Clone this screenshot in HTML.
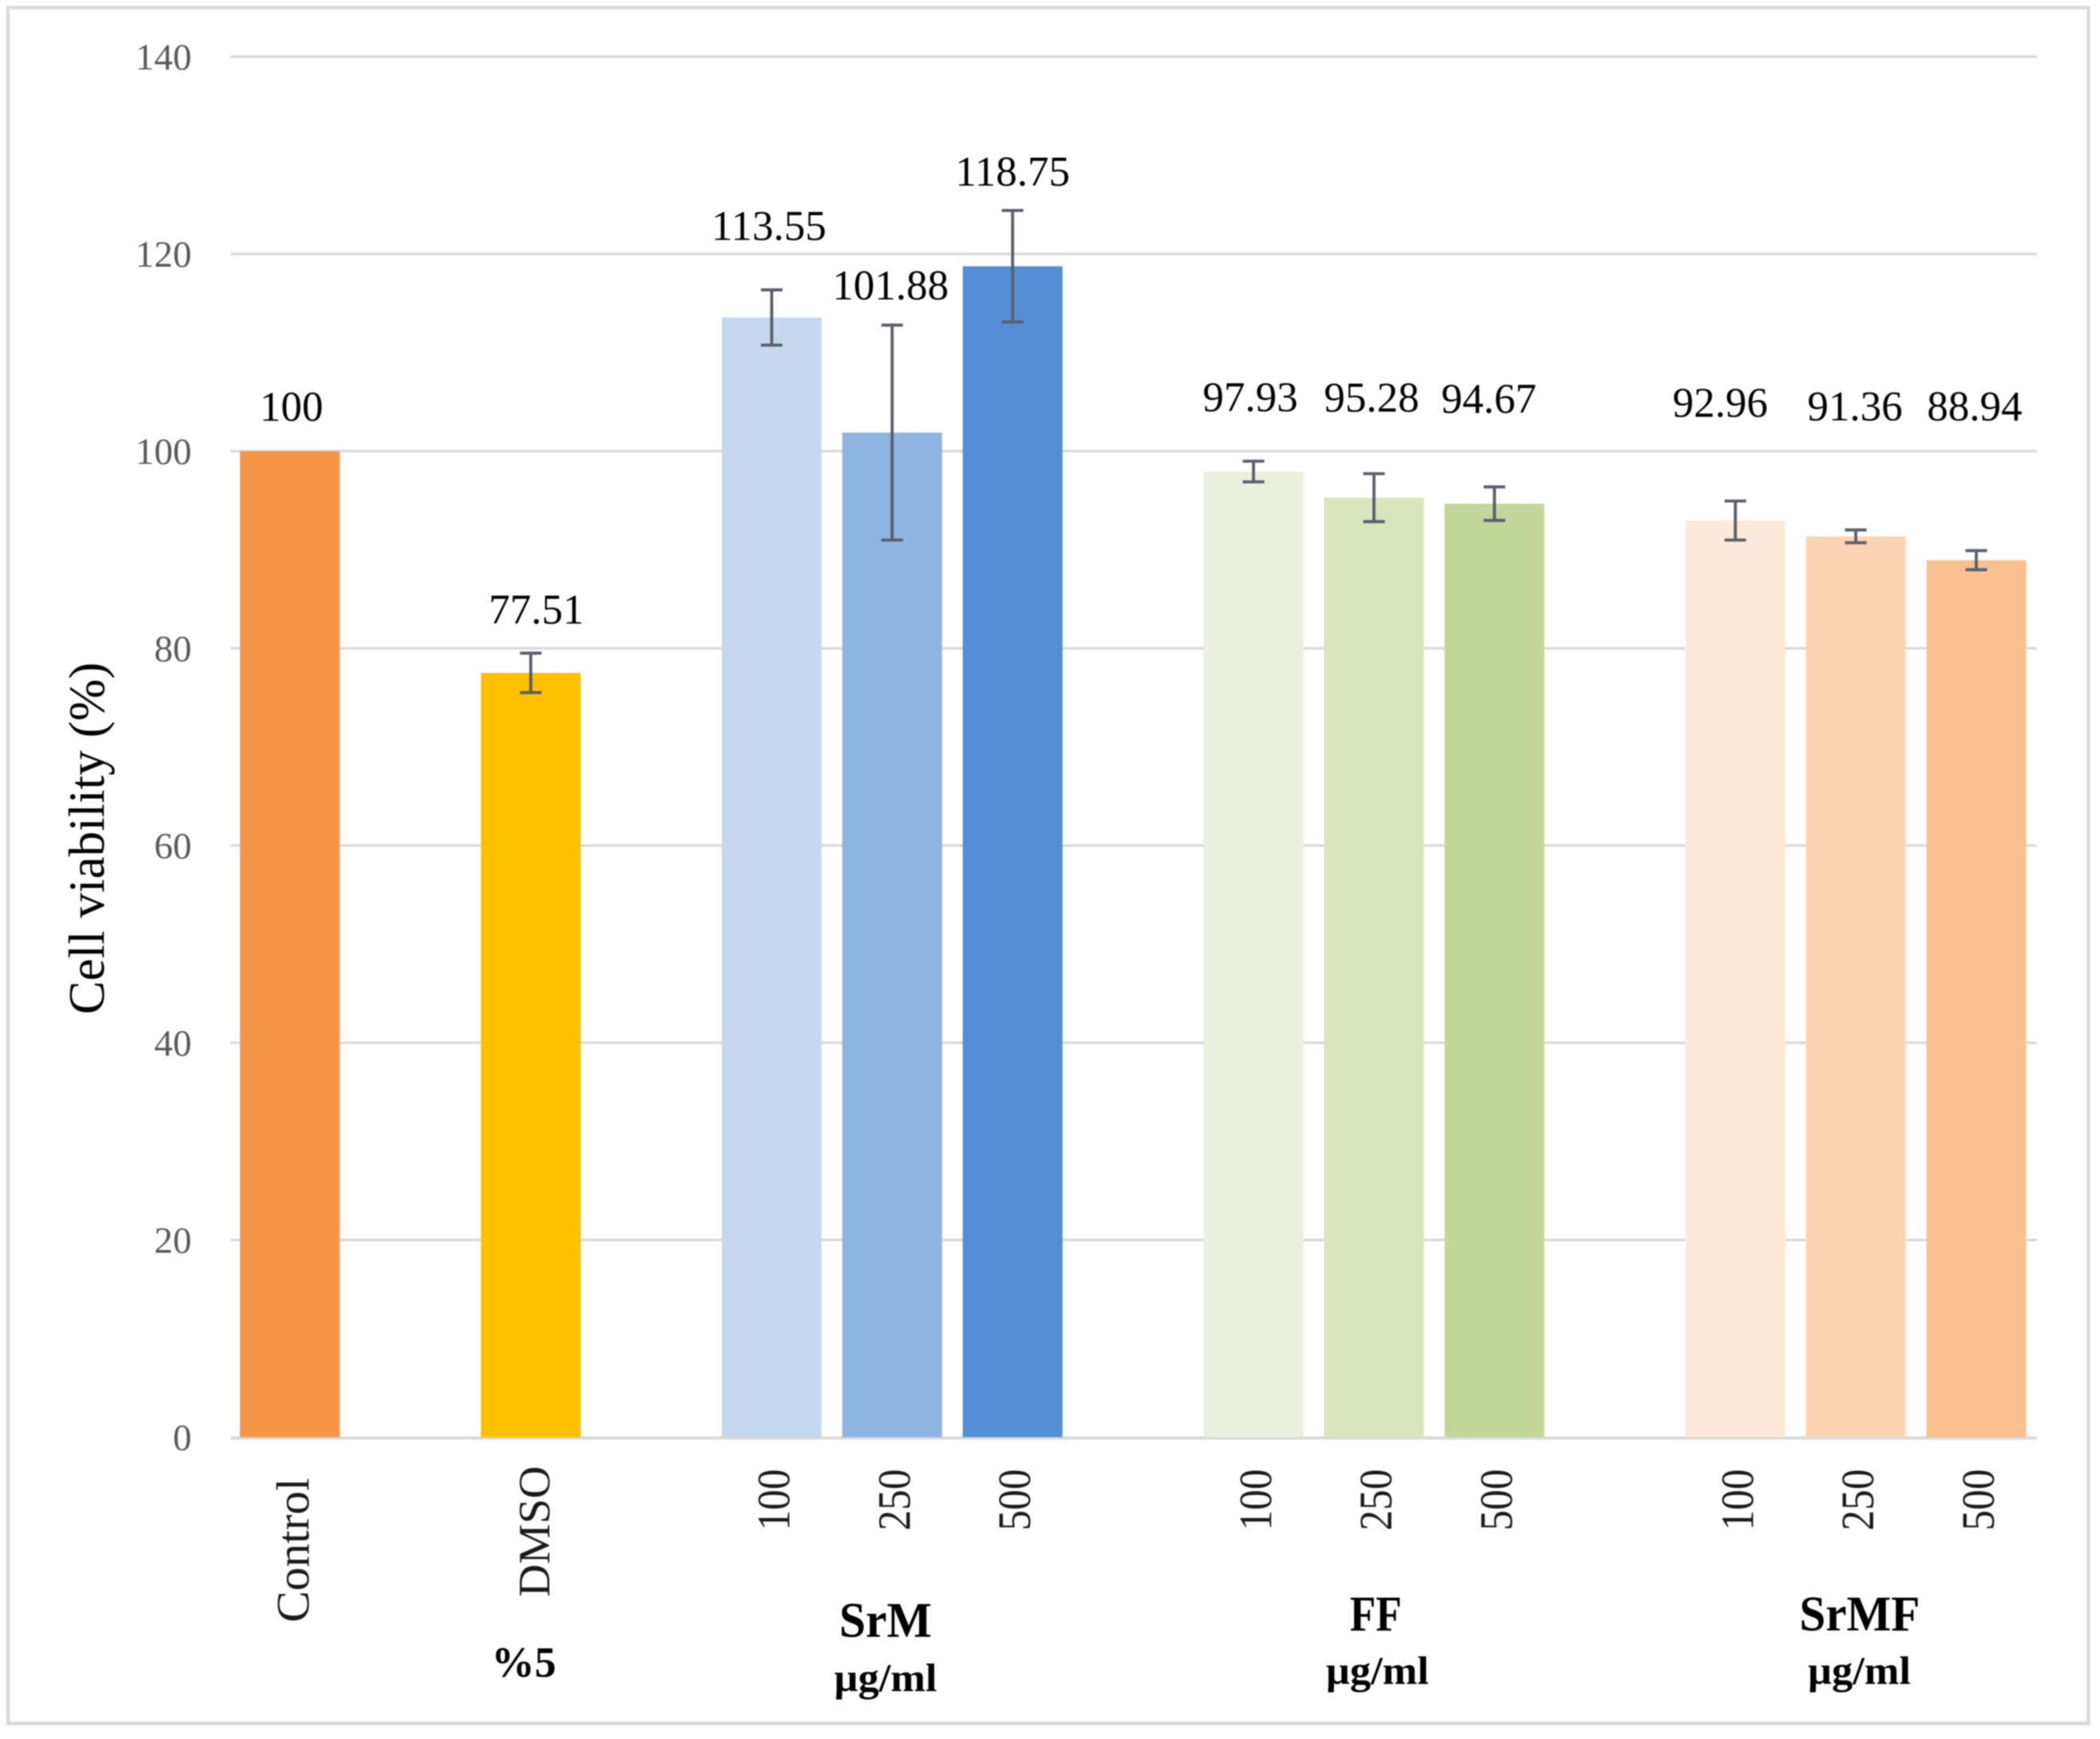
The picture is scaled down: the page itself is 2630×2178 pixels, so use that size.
<!DOCTYPE html>
<html lang="en">
<head>
<meta charset="utf-8">
<title>Cell viability chart</title>
<style>
  html, body { margin: 0; padding: 0; background: #fff; }
  #chart { display: block; filter: blur(0.8px); font-family: "Liberation Serif", serif; }
</style>
</head>
<body>
<svg id="chart" xmlns="http://www.w3.org/2000/svg" width="2630" height="2178" viewBox="0 0 2630 2178">
  <rect x="0" y="0" width="2630" height="2178" fill="#ffffff"/>
  <rect x="10" y="9.5" width="2605.5" height="2149" fill="none" stroke="#d9d9d9" stroke-width="4.5"/>
  <g id="grid"></g>
  <g id="yticks"></g>
  <g id="bars"></g>
  <g id="errors"></g>
  <g id="values"></g>
  <g id="xlabels"></g>
  <text transform="translate(130,1050) rotate(-90)" text-anchor="middle" font-size="63" fill="#000" textLength="441" lengthAdjust="spacingAndGlyphs">Cell viability (%)</text>
  <text x="656" y="2100" text-anchor="middle" font-size="54" font-weight="bold" fill="#000">%5</text>
  <text x="1109" y="2050" text-anchor="middle" font-size="62" font-weight="bold" fill="#000" textLength="116" lengthAdjust="spacingAndGlyphs">SrM</text>
  <text x="1109" y="2118" text-anchor="middle" font-size="50" font-weight="bold" fill="#000" textLength="129" lengthAdjust="spacingAndGlyphs">µg/ml</text>
  <text x="1723" y="2042" text-anchor="middle" font-size="62" font-weight="bold" fill="#000" textLength="65" lengthAdjust="spacingAndGlyphs">FF</text>
  <text x="1725" y="2109" text-anchor="middle" font-size="50" font-weight="bold" fill="#000" textLength="129" lengthAdjust="spacingAndGlyphs">µg/ml</text>
  <text x="2329" y="2042" text-anchor="middle" font-size="62" font-weight="bold" fill="#000" textLength="151" lengthAdjust="spacingAndGlyphs">SrMF</text>
  <text x="2328.5" y="2109" text-anchor="middle" font-size="50" font-weight="bold" fill="#000" textLength="129" lengthAdjust="spacingAndGlyphs">µg/ml</text>
</svg>
<script>
// Chart data
const categories = ['Control', null, 'DMSO', null, '100', '250', '500', null, '100', '250', '500', null, '100', '250', '500'];
const viability = [100, null, 77.51, null, 113.55, 101.88, 118.75, null, 97.93, 95.28, 94.67, null, 92.96, 91.36, 88.94];
const errorAmount = [0, null, 2.0, null, 2.8, 10.9, 5.65, null, 1.05, 2.43, 1.7, null, 1.98, 0.65, 0.97];
const valueLabels = ['100', null, '77.51', null, '113.55', '101.88', '118.75', null, '97.93', '95.28', '94.67', null, '92.96', '91.36', '88.94'];
const yTicks = [0, 20, 40, 60, 80, 100, 120, 140];

(function draw() {
  const NS = 'http://www.w3.org/2000/svg';
  const barFill = ['#f79646', null, '#ffc000', null, '#c6d8f0', '#8fb3e2', '#558ed5', null, '#ebf1de', '#d9e5bd', '#c4d79b', null, '#fde9d9', '#fbd4b4', '#fac090'];
  // Per-label nudge from the bar top, matching the hand-placed annotations.
  const labelNudge = [[2, -38], null, [7, -62], null, [-3.5, -97], [-2, -167], [0, -101], null, [-4, -75.5], [-3, -108], [-7, -114], null, [-19, -130], [-1, -145], [-2, -175]];

  const yScale = function (v) { return 1800 - v * (1729 / 140); };
  const xScale = function (i) { return 363 + i * 150.86; };
  const BAR_W = 125;
  const CAP = 27;

  function make(tag, attrs, parent, content) {
    const el = document.createElementNS(NS, tag);
    for (const k in attrs) { el.setAttribute(k, attrs[k]); }
    if (content !== undefined) { el.textContent = content; }
    document.getElementById(parent).appendChild(el);
    return el;
  }

  yTicks.forEach(function (t) {
    const line = make('line', { x1: 289, x2: 2551, y1: yScale(t) + (t === 0 ? 1 : 0), y2: yScale(t) + (t === 0 ? 1 : 0), stroke: '#d9d9d9', 'stroke-width': t === 0 ? 4 : 3.2 }, 'grid');
    
    
    const label = make('text', { x: 240, y: yScale(t) + 16, 'text-anchor': 'end', 'font-size': 47, fill: '#595959' }, 'yticks', String(t));
    
    
  });

  categories.forEach(function (cat, i) {
    if (cat === null) { return; }
    const cx = xScale(i);
    const top = yScale(viability[i]);
    const bar = make('rect', { x: cx - BAR_W / 2, y: top, width: BAR_W, height: yScale(0) - top, fill: barFill[i] }, 'bars');
    
    

    if (errorAmount[i] > 0) {
      const hi = yScale(viability[i] + errorAmount[i]);
      const lo = yScale(viability[i] - errorAmount[i]);
      const d = 'M' + (cx - CAP / 2) + ' ' + hi + 'H' + (cx + CAP / 2) + 'M' + cx + ' ' + hi + 'V' + lo + 'M' + (cx - CAP / 2) + ' ' + lo + 'H' + (cx + CAP / 2);
      const err = make('path', { d: d, fill: 'none', stroke: '#595f69', 'stroke-width': 3.8 }, 'errors');
      
      
    }

    const nudge = labelNudge[i];
    const val = make('text', { x: cx + nudge[0], y: top + nudge[1], 'text-anchor': 'middle', 'font-size': 53, fill: '#000' }, 'values', valueLabels[i]);
    
    

    const isControl = cat === 'Control';
    const isDmso = cat === 'DMSO';
    const topY = isControl ? 1851 : (isDmso ? 1836 : 1840);
    const size = isDmso ? 56 : 58;
    const length = isControl ? 181 : (isDmso ? 164 : 77);
    const base = isControl || isDmso ? 23.5 : 22;
    const tick = make('text', { transform: 'translate(' + (cx + base) + ',' + topY + ') rotate(-90)', 'text-anchor': 'end', 'font-size': size, fill: '#1a1a1a', textLength: length, lengthAdjust: 'spacingAndGlyphs' }, 'xlabels', cat);
    
    
  });
})();
</script>
</body>
</html>
